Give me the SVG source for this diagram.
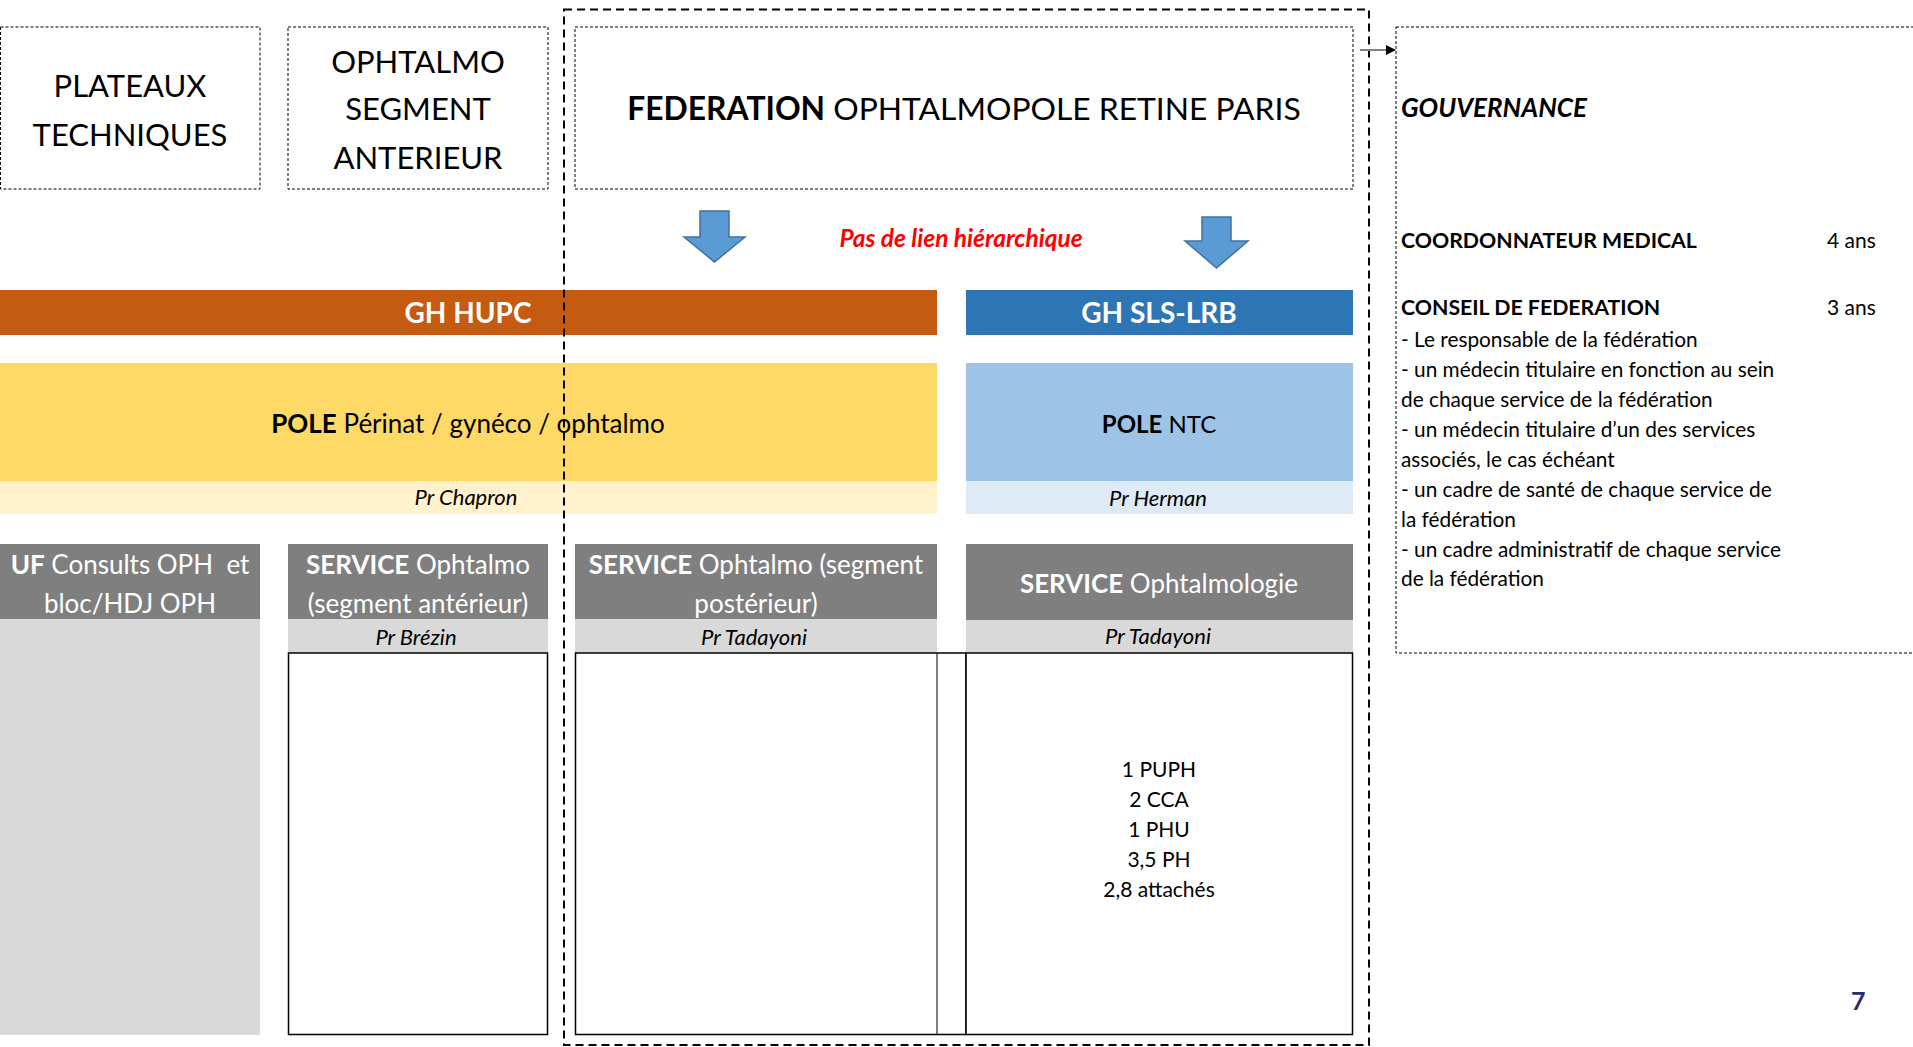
<svg xmlns="http://www.w3.org/2000/svg" width="1913" height="1047" viewBox="0 0 1913 1047">
<style>
text{font-family:Lato,"Liberation Sans",sans-serif;fill:#000}
.c{text-anchor:middle}
.b{font-weight:bold}
.i{font-style:italic}
.w{fill:#fff}
.dot{fill:#fff;stroke:#000;stroke-width:1;stroke-dasharray:3 2}
.big{font-size:31px}
.gh{font-size:28px;font-weight:bold;fill:#fff}
.pole{font-size:26px}
.pr{font-size:22px;font-style:italic}
.svc{font-size:26px;fill:#fff}
.staff{font-size:21px}
.gov{font-size:20.8px}
.box{fill:#fff;stroke:#000;stroke-width:1.5}
</style>
<defs>
<marker id="ah" markerWidth="10" markerHeight="10" refX="9" refY="5" orient="auto" markerUnits="userSpaceOnUse">
<path d="M0,0 L10,5 L0,10 Z" fill="#000"/>
</marker>
</defs>
<rect width="1913" height="1047" fill="#fff"/>

<g id="plateaux">
<rect class="dot" x="0.5" y="27" width="259.5" height="162"/>
<text class="c big" x="130" y="97">PLATEAUX</text>
<text class="c big" x="130" y="146">TECHNIQUES</text>
</g>

<g id="ophtalmo-segment">
<rect class="dot" x="288" y="27" width="260" height="162"/>
<text class="c big" x="418" y="73">OPHTALMO</text>
<text class="c big" x="418" y="120">SEGMENT</text>
<text class="c big" x="418" y="169">ANTERIEUR</text>
</g>

<g id="federation">
<rect class="dot" x="575" y="27" width="778" height="162"/>
<text class="c" x="964" y="120" font-size="31.8"><tspan class="b">FEDERATION</tspan> OPHTALMOPOLE RETINE PARIS</text>
</g>

<g id="gouvernance">
<rect class="dot" x="1396" y="27" width="530" height="626"/>
<text class="b i" x="1401" y="117" font-size="26">GOUVERNANCE</text>
<text class="b" x="1401" y="248" font-size="21.3">COORDONNATEUR MEDICAL</text>
<text x="1827" y="248" font-size="21">4 ans</text>
<text class="b" x="1401" y="315" font-size="21.3">CONSEIL DE FEDERATION</text>
<text x="1827" y="315" font-size="21">3 ans</text>
<text class="gov" x="1401" y="347">- Le responsable de la fédération</text>
<text class="gov" x="1401" y="377">- un médecin titulaire en fonction au sein</text>
<text class="gov" x="1401" y="407">de chaque service de la fédération</text>
<text class="gov" x="1401" y="437">- un médecin titulaire d’un des services</text>
<text class="gov" x="1401" y="467">associés, le cas échéant</text>
<text class="gov" x="1401" y="497">- un cadre de santé de chaque service de</text>
<text class="gov" x="1401" y="527">la fédération</text>
<text class="gov" x="1401" y="557">- un cadre administratif de chaque service</text>
<text class="gov" x="1401" y="586">de la fédération</text>
</g>

<g id="gh-hupc">
<rect x="0" y="290" width="937" height="45" fill="#C55A11"/>
<text class="c gh" x="468" y="323">GH HUPC</text>
</g>

<g id="gh-sls">
<rect x="966" y="290" width="387" height="45" fill="#2E75B6"/>
<text class="c gh" x="1159" y="323">GH SLS-LRB</text>
</g>

<g id="pole-perinat">
<rect x="0" y="363" width="937" height="118" fill="#FFD966"/>
<rect x="0" y="481" width="937" height="33" fill="#FFF2CC"/>
<text class="c pole" x="468" y="433"><tspan class="b">POLE</tspan> Périnat / gynéco / ophtalmo</text>
<text class="c pr" x="466" y="505">Pr Chapron</text>
</g>

<g id="pole-ntc">
<rect x="966" y="363" width="387" height="118" fill="#9DC3E6"/>
<rect x="966" y="481" width="387" height="33" fill="#DEEBF7"/>
<text class="c" x="1159" y="433" font-size="24"><tspan class="b">POLE</tspan> NTC</text>
<text class="c pr" x="1158" y="506">Pr Herman</text>
</g>

<g id="uf-consults">
<rect x="0" y="544" width="260" height="75" fill="#7F7F7F"/>
<rect x="0" y="619" width="260" height="416" fill="#D9D9D9"/>
<text class="c svc" x="130" y="574"><tspan class="b w">UF</tspan> Consults OPH&#160; et</text>
<text class="c svc" x="130" y="613">bloc/HDJ OPH</text>
</g>

<g id="service-anterieur">
<rect x="288" y="544" width="260" height="75" fill="#7F7F7F"/>
<rect x="288" y="619" width="260" height="34" fill="#D9D9D9"/>
<rect class="box" x="288.5" y="653" width="259" height="381.5"/>
<text class="c svc" x="418" y="574"><tspan class="b w">SERVICE</tspan> Ophtalmo</text>
<text class="c svc" x="418" y="613">(segment antérieur)</text>
<text class="c pr" x="416" y="645">Pr Brézin</text>
</g>

<g id="service-posterieur">
<rect x="575" y="544" width="362" height="75" fill="#7F7F7F"/>
<rect x="575" y="619" width="362" height="34" fill="#D9D9D9"/>
<rect class="box" x="575.5" y="653" width="390.5" height="381.5"/>
<line x1="937" y1="653" x2="937" y2="1034.5" stroke="#000" stroke-width="1"/>
<text class="c svc" x="756" y="574"><tspan class="b w">SERVICE</tspan> Ophtalmo (segment</text>
<text class="c svc" x="756" y="613">postérieur)</text>
<text class="c pr" x="754" y="645">Pr Tadayoni</text>
</g>

<g id="service-ophtalmologie">
<rect x="966" y="544" width="387" height="76" fill="#7F7F7F"/>
<rect x="966" y="620" width="387" height="33" fill="#D9D9D9"/>
<rect class="box" x="966" y="653" width="386.5" height="381.5"/>
<text class="c svc" x="1159" y="593"><tspan class="b w">SERVICE</tspan> Ophtalmologie</text>
<text class="c pr" x="1158" y="644">Pr Tadayoni</text>
<text class="c staff" x="1159" y="777">1 PUPH</text>
<text class="c staff" x="1159" y="807">2 CCA</text>
<text class="c staff" x="1159" y="837">1 PHU</text>
<text class="c staff" x="1159" y="867">3,5 PH</text>
<text class="c staff" x="1159" y="897">2,8 attachés</text>
</g>

<g id="federation-frame">
<rect x="564" y="9.5" width="805" height="1035.5" fill="none" stroke="#000" stroke-width="2" stroke-dasharray="8 5"/>
</g>

<g id="connectors">
<path d="M700,211 H729 V237 H745 L714.5,262 L684,237 H700 Z" fill="#5B9BD5" stroke="#41719C" stroke-width="1.5"/>
<path d="M1202,217 H1231 V241 H1248 L1216.5,268 L1185,241 H1202 Z" fill="#5B9BD5" stroke="#41719C" stroke-width="1.5"/>
<line x1="1360" y1="50" x2="1395" y2="50" stroke="#808080" stroke-width="2" marker-end="url(#ah)"/>
</g>

<text id="pas-de-lien" class="c b i" x="961" y="247" font-size="24.5" style="fill:#FF0000">Pas de lien hiérarchique</text>
<text id="page-num" class="b" x="1851" y="1010" font-size="25" style="fill:#2E2A6E">7</text>
</svg>
